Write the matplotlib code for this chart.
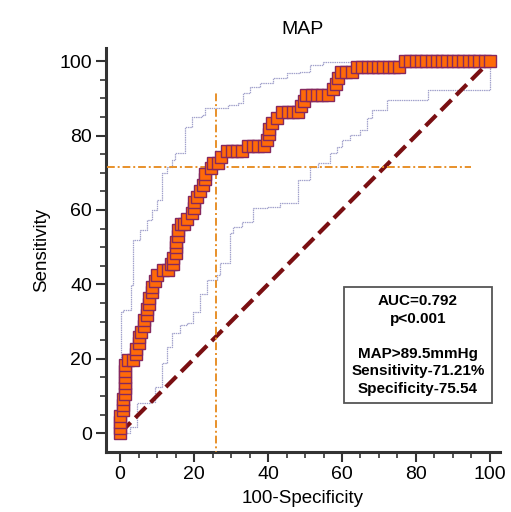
import matplotlib
matplotlib.use('Agg')
import matplotlib.pyplot as plt
import numpy as np

plt.rcParams['font.family'] = ['Liberation Sans', 'DejaVu Sans']

# empirical ROC (100-specificity, sensitivity)
roc_x = [0, 0, 0, 0, 0.7, 0.7, 0.7, 1.4, 1.4, 1.4, 1.4, 1.4, 1.4, 2.2, 3.6,
         4.3, 4.3, 5.0, 5.0, 5.8, 6.5, 6.5, 7.2, 7.2, 7.9, 7.9, 8.6, 8.6, 9.4,
         10.1, 11.5, 12.9, 13.7, 14.4, 14.4, 15.1, 15.1, 15.1, 15.8, 15.8, 16.5,
         17.3, 18.0, 19.4, 20.1, 20.1, 20.9, 21.6, 22.3, 23.0, 23.0, 24.5, 25.2,
         26.6, 27.3, 28.8, 30.2, 31.7, 33.1, 34.5, 36.0, 37.4, 38.8, 39.6, 40.3,
         40.3, 41.0, 42.4, 43.9, 45.3, 46.8, 48.2, 48.9, 49.6, 50.4, 51.8, 53.2,
         54.7, 56.1, 57.6, 58.3, 59.0, 59.7, 61.2, 62.6, 64.0, 65.5, 66.9, 68.3,
         69.8, 71.2, 72.7, 74.1, 75.5, 77.0, 78.4, 79.9, 81.3, 82.7, 84.2, 85.6,
         87.1, 88.5, 89.9, 91.4, 92.8, 94.2, 95.7, 97.1, 98.6, 100]
roc_y = [0, 1.5, 3.0, 4.5, 6.1, 7.6, 9.1, 10.6, 12.1, 13.6, 15.2, 16.7, 18.2,
         19.7, 19.7, 21.2, 22.7, 24.2, 25.8, 27.3, 28.8, 30.3, 31.8, 33.3, 34.8,
         36.4, 37.9, 39.4, 40.9, 42.4, 43.9, 43.9, 45.5, 45.5, 47.0, 48.5, 50.0,
         51.5, 53.0, 54.5, 56.1, 56.1, 57.6, 59.1, 60.6, 62.1, 63.6, 65.2, 66.7,
         68.2, 69.7, 71.2, 72.7, 72.7, 74.2, 75.8, 75.8, 75.8, 75.8, 77.3, 77.3,
         77.3, 77.3, 78.8, 80.3, 81.8, 83.3, 84.8, 86.4, 86.4, 86.4, 86.4, 87.9,
         89.4, 90.9, 90.9, 90.9, 90.9, 90.9, 92.4, 93.9, 95.5, 97.0, 97.0, 97.0,
         98.5, 98.5, 98.5, 98.5, 98.5, 98.5, 98.5, 98.5, 98.5, 100, 100, 100,
         100, 100, 100, 100, 100, 100, 100, 100, 100, 100, 100, 100, 100, 100]

# 95% confidence bounds
upper_x = [0, 0, 0.2, 0.7, 3.0, 3.5, 3.5, 5.4, 5.9, 7.3, 8.6, 10.0, 11.4, 12.7,
           14.0, 14.9, 17.6, 19.5, 22.2, 23.0, 26.5, 29.2, 31.9, 33.2, 35.1,
           37.8, 41.4, 45.1, 48.6, 51.4, 54.9, 64.9, 100]
upper_y = [0, 19.0, 32.5, 33.0, 39.8, 41.0, 52.0, 54.6, 54.7, 57.3, 59.9,
           62.6, 69.9, 71.5, 73.4, 75.3, 82.3, 84.9, 85.5, 87.4, 87.4, 88.2,
           88.7, 91.4, 93.0, 94.1, 95.4, 96.8, 97.0, 98.9, 99.7, 99.7, 100]
lower_x = [0, 2.7, 4.6, 8.1, 9.5, 11.4, 12.7, 14.0, 16.2, 18.1, 19.7, 21.6,
           23.5, 26.2, 27.0, 29.7, 30.5, 33.0, 36.0, 39.7, 43.2, 46.0, 48.1,
           51.4, 53.5, 56.8, 58.6, 60.0, 62.2, 64.9, 66.8, 68.1, 72.2, 83.0,
           83.2, 100, 100]
lower_y = [0, 1.6, 8.1, 8.3, 12.4, 18.8, 23.1, 26.9, 29.0, 29.6, 32.5, 37.5,
           41.1, 42.5, 45.7, 53.8, 55.4, 56.7, 60.5, 60.8, 61.8, 61.8, 68.0,
           71.5, 72.6, 75.3, 76.9, 78.8, 80.1, 81.5, 84.7, 86.8, 89.5, 89.5,
           92.2, 92.2, 100]

# cut-off guide lines as drawn in the figure
cut_x = 26.0
cut_y = 71.6

info = 'AUC=0.792\np<0.001\n\nMAP>89.5mmHg\nSensitivity-71.21%\nSpecificity-75.54'

fig = plt.figure(figsize=(5.11, 5.12), dpi=100)
ax = fig.add_axes([0.2074, 0.117, 0.771, 0.789])

band = dict(color='#a2a2cc', lw=0.9, linestyle=(0, (1.2, 0.6)))
ax.step(upper_x, upper_y, where='post', **band)
ax.step(lower_x, lower_y, where='post', **band)

ax.plot([0, 100], [0, 100], color='#7a0f12', lw=3.0, linestyle=(0, (3.6, 1.6)),
        zorder=2)

ax.plot([cut_x, cut_x], [-7, 92], color='#e8912a', lw=1.4,
        linestyle=(0, (4, 1.5, 1, 1.5)), zorder=3)
ax.plot([-3.5, 95], [cut_y, cut_y], color='#e8912a', lw=1.4,
        linestyle=(0, (4, 1.5, 1, 1.5)), zorder=3)

ax.plot(roc_x, roc_y, linestyle='none', marker='s', markersize=8.0,
        markerfacecolor='#ff6a08', markeredgecolor='#86285e',
        markeredgewidth=1.0, zorder=4)

ax.text(0.792, 0.265, info, transform=ax.transAxes, ha='center', va='center',
        fontsize=11, fontweight='bold', linespacing=1.32,
        bbox=dict(boxstyle='square,pad=0.5', facecolor='white',
                  edgecolor='#555555', linewidth=1.3))

ax.set_xlim(-3.8, 102.7)
ax.set_ylim(-5.1, 103.5)
ax.set_xticks(np.arange(0, 101, 20))
ax.set_yticks(np.arange(0, 101, 20))
ax.set_xticks(np.arange(0, 101, 5), minor=True)
ax.set_yticks(np.arange(0, 101, 5), minor=True)
ax.tick_params(which='major', length=7, width=1.5, color='#333333',
               labelsize=14, pad=3)
ax.tick_params(which='minor', length=4, width=1.2, color='#333333')

for s in ['top', 'right']:
    ax.spines[s].set_visible(False)
for s in ['left', 'bottom']:
    ax.spines[s].set_linewidth(2.2)
    ax.spines[s].set_color('#333333')

ax.set_title('MAP', fontsize=14, pad=10)
ax.set_xlabel('100-Specificity', fontsize=13.5, labelpad=5)
ax.set_ylabel('Sensitivity', fontsize=13.5, labelpad=7)

fig.savefig('out.png', dpi=100)
